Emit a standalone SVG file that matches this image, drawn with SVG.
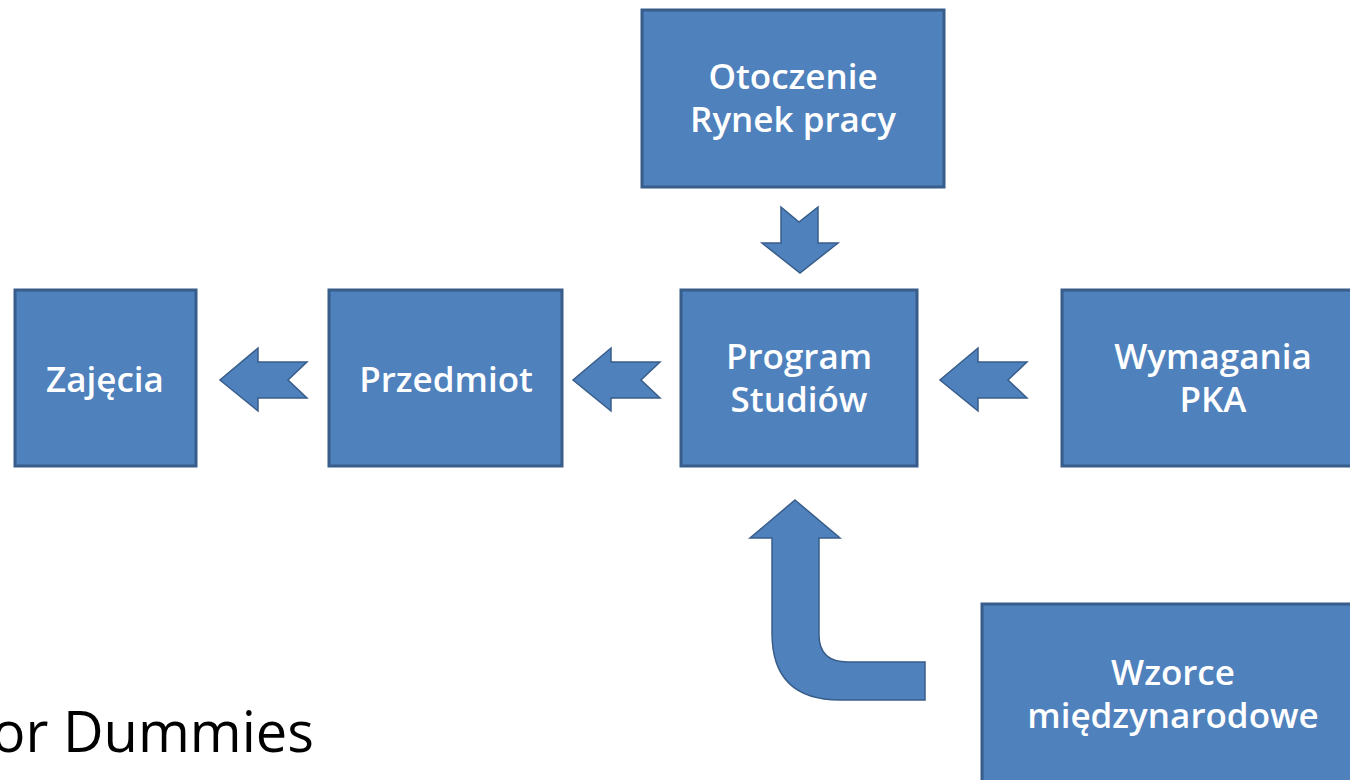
<svg xmlns="http://www.w3.org/2000/svg" width="1350" height="780" viewBox="0 0 1350 780">
<style>
.box{fill:#4F81BD;stroke:#385D8A;stroke-width:3}
.arr{fill:#4F81BD;stroke:#385D8A;stroke-width:1.5}
.t{font-family:"Open Sans","Liberation Sans",sans-serif;font-size:35px;font-weight:600;fill:#FFFFFF;text-anchor:middle}
.cap{font-family:"Open Sans","Liberation Sans",sans-serif;font-size:56px;fill:#000000}
</style>
<rect width="1350" height="780" fill="#FFFFFF"/>
<g id="otoczenie">
<rect class="box" x="642" y="10" width="302" height="177"/>
<text class="t" x="793" y="89">Otoczenie</text>
<text class="t" x="793" y="132">Rynek pracy</text>
</g>
<g id="zajecia">
<rect class="box" x="15" y="290" width="181" height="176"/>
<text class="t" x="105" y="392">Zajęcia</text>
</g>
<g id="przedmiot">
<rect class="box" x="329" y="290" width="233" height="176"/>
<text class="t" x="446" y="392">Przedmiot</text>
</g>
<g id="program">
<rect class="box" x="681" y="290" width="236" height="176"/>
<text class="t" x="799" y="369">Program</text>
<text class="t" x="799" y="412">Studiów</text>
</g>
<g id="wymagania">
<rect class="box" x="1062" y="290" width="300" height="176"/>
<text class="t" x="1213" y="369">Wymagania</text>
<text class="t" x="1213" y="412">PKA</text>
</g>
<g id="wzorce">
<rect class="box" x="982" y="604" width="380" height="190"/>
<text class="t" x="1173" y="685">Wzorce</text>
<text class="t" x="1173" y="728">międzynarodowe</text>
</g>
<g id="connectors">
<path class="arr" d="M781,207 L799,222 L818,207 L818,243 L838,243 L800,273 L762,243 L781,243 Z"/>
<path class="arr" d="M307,362 L288,380 L307,398 L258,398 L258,411 L220,380 L258,348 L258,362 Z"/>
<path class="arr" d="M660,362 L641,380 L660,398 L611,398 L611,411 L573,380 L611,348 L611,362 Z"/>
<path class="arr" d="M1027,362 L1008,380 L1027,398 L978,398 L978,411 L940,380 L978,348 L978,362 Z"/>
<path class="arr" d="M795,500 L840,538 L819,538 L819,635 Q819,662 848,662 L925,662 L925,700 L840,700 Q772,700 772,633 L772,538 L750,538 Z"/>
</g>
<text class="cap" x="-27" y="752">for Dummies</text>
</svg>
